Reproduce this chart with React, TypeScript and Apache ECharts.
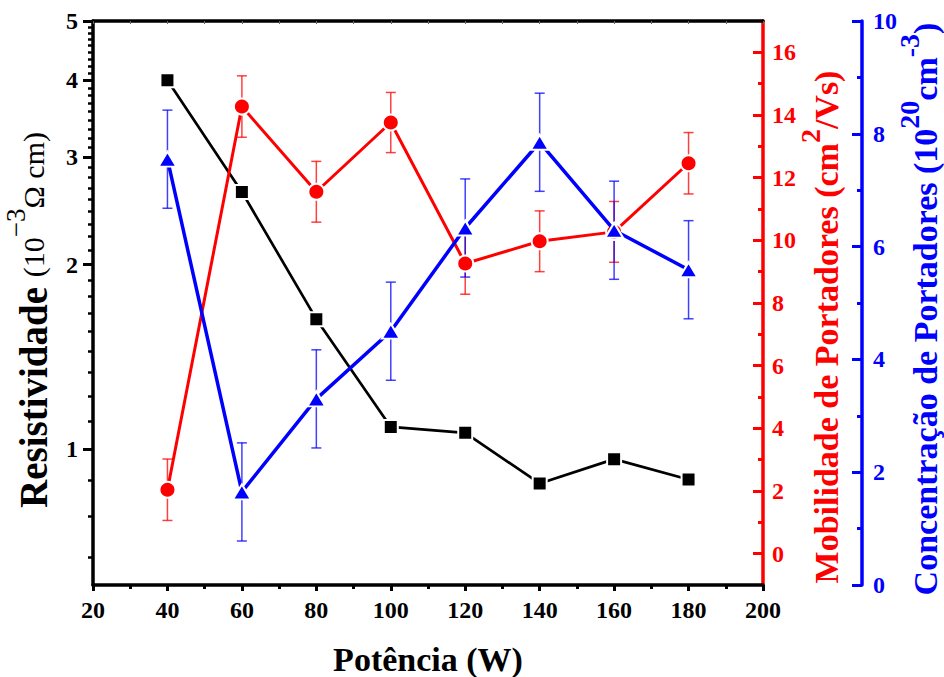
import React, { useEffect, useRef } from "react";
import * as echarts from "echarts";

// ---- data ----
const potencia = [40, 60, 80, 100, 120, 140, 160, 180];
const resistividade = [4.0, 2.63, 1.63, 1.087, 1.063, 0.879, 0.963, 0.892];
const mobilidade = [2.04, 14.27, 11.55, 13.76, 9.26, 9.97, 10.27, 12.46];
const mobilidadeErr = [0.98, 0.98, 0.97, 0.96, 0.98, 0.97, 0.97, 0.98];
const concentracao = [7.55, 1.65, 3.3, 4.5, 6.33, 7.85, 6.29, 5.59];
const concentracaoErr = [0.87, 0.87, 0.87, 0.87, 0.87, 0.87, 0.87, 0.87];

// tick labels
const resMajorTicks = [1, 2, 3, 4, 5];
const resMinorTicks = [
  0.667, 0.778, 0.889,
  1.111, 1.222, 1.333, 1.444, 1.556, 1.667, 1.778, 1.889,
  2.111, 2.222, 2.333, 2.444, 2.556, 2.667, 2.778, 2.889,
  3.111, 3.222, 3.333, 3.444, 3.556, 3.667, 3.778, 3.889,
  4.111, 4.222, 4.333, 4.444, 4.556, 4.667, 4.778, 4.889,
];
const mobMajorTicks = [0, 2, 4, 6, 8, 10, 12, 14, 16];
const mobMinorTicks = [1, 3, 5, 7, 9, 11, 13, 15];

const FONT = "Liberation Serif";
const RED = "#ff0000";
const BLUE = "#0000ff";

const RES_MIN = 0.6;
const RES_MAX = 5;

function errorBarSeries(vals: number[], errs: number[], yAxisIndex: number, color: string) {
  return {
    type: "custom",
    xAxisIndex: 0,
    yAxisIndex,
    z: 1,
    silent: true,
    encode: { x: 0, y: [1, 2] },
    data: potencia.map((x, i) => [x, vals[i] - errs[i], vals[i] + errs[i]]),
    renderItem: (params: any, api: any) => {
      const x = api.value(0);
      const p1 = api.coord([x, api.value(1)]);
      const p2 = api.coord([x, api.value(2)]);
      const w = 5;
      const style = { stroke: color, lineWidth: 1.5, opacity: 0.75 };
      return {
        type: "group",
        children: [
          { type: "line", shape: { x1: p1[0], y1: p1[1], x2: p2[0], y2: p2[1] }, style },
          { type: "line", shape: { x1: p1[0] - w, y1: p1[1], x2: p1[0] + w, y2: p1[1] }, style },
          { type: "line", shape: { x1: p2[0] - w, y1: p2[1], x2: p2[0] + w, y2: p2[1] }, style },
        ],
      };
    },
  };
}

export default function App() {
  const ref = useRef<HTMLDivElement>(null);

  useEffect(() => {
    document.body.style.margin = "0";
    if (!ref.current) return;
    const chart = echarts.init(ref.current, null, { renderer: "svg" });

    const lg = (v: number) => Math.log10(v);
    const logMin = lg(RES_MIN);
    const logMax = lg(RES_MAX);

    const labelStyle = { fontFamily: FONT, fontWeight: "bold", fontSize: 24 };

    const option: any = {
      animation: false,
      backgroundColor: "#ffffff",
      textStyle: { fontFamily: FONT },
      grid: { left: 93, right: 181, top: 21, bottom: 92, outerBoundsMode: "none" },
      xAxis: [
        {
          type: "value",
          position: "bottom",
          min: 20,
          max: 200,
          interval: 20,
          axisLine: { onZero: false, lineStyle: { color: "#000", width: 3.5 } },
          axisTick: { inside: false, length: 6, lineStyle: { color: "#000", width: 3 } },
          minorTick: { show: true, splitNumber: 2, length: 4, lineStyle: { color: "#000", width: 3 } },
          axisLabel: { ...labelStyle, color: "#000", margin: 13 },
          splitLine: { show: false },
        },
        {
          type: "value",
          position: "top",
          min: 20,
          max: 200,
          interval: 20,
          axisLine: { onZero: false, lineStyle: { color: "#000", width: 3.5 } },
          axisTick: { inside: true, length: 3, lineStyle: { color: "#666", width: 1 } },
          minorTick: { show: true, splitNumber: 2, length: 3, lineStyle: { color: "#666", width: 1 } },
          axisLabel: { show: false },
          splitLine: { show: false },
        },
      ],
      yAxis: [
        {
          // 0: resistivity data axis (log)
          type: "log",
          logBase: 10,
          position: "left",
          min: RES_MIN,
          max: RES_MAX,
          axisLine: { show: true, onZero: false, lineStyle: { color: "#000", width: 3.5 } },
          axisTick: { show: false },
          axisLabel: { show: false },
          splitLine: { show: false },
          minorTick: { show: false },
          minorSplitLine: { show: false },
        },
        {
          // 1: mobility
          type: "value",
          position: "right",
          min: -1,
          max: 17,
          axisLine: { show: true, onZero: false, lineStyle: { color: RED, width: 3.5 } },
          axisTick: {
            show: true,
            inside: true,
            length: 10,
            customValues: mobMajorTicks,
            lineStyle: { color: RED, width: 3 },
          },
          axisLabel: { ...labelStyle, color: RED, margin: 9, customValues: mobMajorTicks },
          splitLine: { show: false },
        },
        {
          // 2: concentration
          type: "value",
          position: "right",
          offset: 99,
          min: 0,
          max: 10,
          interval: 2,
          axisLine: { show: true, onZero: false, lineStyle: { color: BLUE, width: 3.5 } },
          axisTick: { show: true, inside: true, length: 10, lineStyle: { color: BLUE, width: 3 } },
          minorTick: { show: true, splitNumber: 2, length: 5, lineStyle: { color: BLUE, width: 3 } },
          axisLabel: { ...labelStyle, color: BLUE, margin: 11 },
          splitLine: { show: false },
        },
        {
          // 3: mobility minor ticks
          type: "value",
          position: "right",
          min: -1,
          max: 17,
          axisLine: { show: false, onZero: false },
          axisTick: {
            show: true,
            inside: true,
            length: 5,
            customValues: mobMinorTicks,
            lineStyle: { color: RED, width: 3 },
          },
          axisLabel: { show: false },
          splitLine: { show: false },
        },
        {
          // 4: resistivity major ticks / labels (log10 space)
          type: "value",
          position: "left",
          min: logMin,
          max: logMax,
          axisLine: { show: false, onZero: false },
          axisTick: {
            show: true,
            inside: false,
            length: 10,
            customValues: resMajorTicks.map(lg),
            lineStyle: { color: "#000", width: 3 },
          },
          axisLabel: {
            ...labelStyle,
            color: "#000",
            margin: 15,
            customValues: resMajorTicks.map(lg),
            formatter: (v: number) => String(Math.round(Math.pow(10, v))),
          },
          splitLine: { show: false },
        },
        {
          // 5: resistivity minor ticks (log10 space)
          type: "value",
          position: "left",
          min: logMin,
          max: logMax,
          axisLine: { show: false, onZero: false },
          axisTick: {
            show: true,
            inside: false,
            length: 5,
            customValues: resMinorTicks.map(lg),
            lineStyle: { color: "#000", width: 2.5 },
          },
          axisLabel: { show: false },
          splitLine: { show: false },
        },
      ],
      series: [
        errorBarSeries(mobilidade, mobilidadeErr, 1, RED),
        errorBarSeries(concentracao, concentracaoErr, 2, BLUE),
        {
          name: "Resistividade",
          type: "line",
          xAxisIndex: 0,
          yAxisIndex: 0,
          data: potencia.map((x, i) => [x, resistividade[i]]),
          symbol: "rect",
          symbolSize: 14,
          lineStyle: { color: "#000", width: 2.7 },
          itemStyle: { color: "#000", borderColor: "#fff", borderWidth: 2 },
          z: 3,
        },
        {
          name: "Mobilidade",
          type: "line",
          xAxisIndex: 0,
          yAxisIndex: 1,
          data: potencia.map((x, i) => [x, mobilidade[i]]),
          symbol: "circle",
          symbolSize: 16,
          lineStyle: { color: RED, width: 3 },
          itemStyle: { color: RED, borderColor: "#fff", borderWidth: 2 },
          z: 4,
        },
        {
          name: "Concentração",
          type: "line",
          xAxisIndex: 0,
          yAxisIndex: 2,
          data: potencia.map((x, i) => [x, concentracao[i]]),
          symbol: "triangle",
          symbolSize: [18, 15],
          lineStyle: { color: BLUE, width: 3.5 },
          itemStyle: { color: BLUE, borderColor: "#fff", borderWidth: 2 },
          z: 5,
        },
      ],
      graphic: [
        {
          type: "text",
          x: 428,
          y: 659,
          style: {
            text: "Potência (W)",
            fontFamily: FONT,
            fontWeight: "bold",
            fontSize: 34,
            fill: "#000",
            align: "center",
            verticalAlign: "middle",
          },
        },
        {
          type: "text",
          x: 33,
          y: 320,
          rotation: Math.PI / 2,
          style: {
            text: "{b|Resistividade }{n|(10}{s|−3}{n|Ω cm)}",
            align: "center",
            verticalAlign: "middle",
            fontFamily: FONT,
            rich: {
              b: { fontFamily: FONT, fontWeight: "bold", fontSize: 39, lineHeight: 62, fill: "#000", verticalAlign: "middle" },
              n: { fontFamily: FONT, fontWeight: "normal", fontSize: 30, lineHeight: 62, fill: "#000", verticalAlign: "middle" },
              s: { fontFamily: FONT, fontWeight: "normal", fontSize: 27, lineHeight: 27, fill: "#000", verticalAlign: "top" },
            },
          },
        },
        {
          type: "text",
          x: 826,
          y: 327,
          rotation: Math.PI / 2,
          style: {
            text: "{b|Mobilidade de Portadores (cm}{s|2}{b|/Vs)}",
            align: "center",
            verticalAlign: "middle",
            fontFamily: FONT,
            rich: {
              b: { fontFamily: FONT, fontWeight: "bold", fontSize: 34, lineHeight: 60, fill: RED, verticalAlign: "middle" },
              s: { fontFamily: FONT, fontWeight: "bold", fontSize: 28, lineHeight: 28, fill: RED, verticalAlign: "top" },
            },
          },
        },
        {
          type: "text",
          x: 925,
          y: 309,
          rotation: Math.PI / 2,
          style: {
            text: "{b|Concentração de Portadores (10}{s|20}{b|cm}{s|-3}{b|)}",
            align: "center",
            verticalAlign: "middle",
            fontFamily: FONT,
            rich: {
              b: { fontFamily: FONT, fontWeight: "bold", fontSize: 34, lineHeight: 60, fill: BLUE, verticalAlign: "middle" },
              s: { fontFamily: FONT, fontWeight: "bold", fontSize: 28, lineHeight: 28, fill: BLUE, verticalAlign: "top" },
            },
          },
        },
      ],
    };

    chart.setOption(option);
    return () => chart.dispose();
  }, []);

  return <div ref={ref} style={{ width: 944, height: 677 }} />;
}
